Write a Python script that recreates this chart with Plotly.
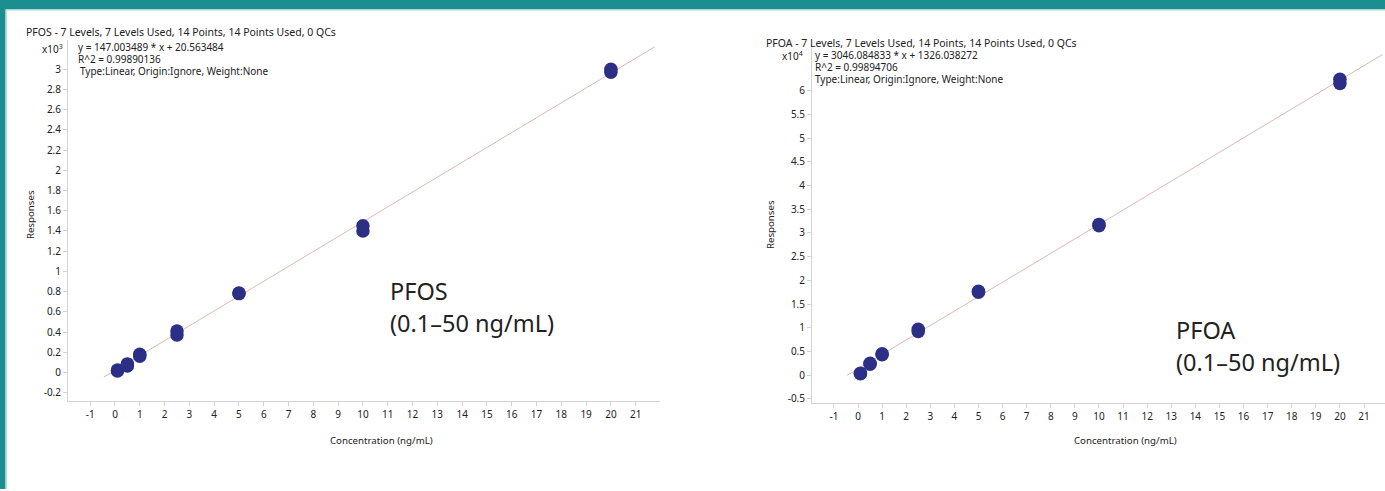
import plotly.graph_objects as go

W, H = 1385, 491

# ---------------- data ----------------
conc_levels = [0.1, 0.1, 0.5, 0.5, 1, 1, 2.5, 2.5, 5, 5, 10, 10, 20, 20]
pfos_resp_k = [0.015, 0.025, 0.065, 0.085, 0.16, 0.18, 0.37, 0.41, 0.78, 0.785, 1.40, 1.45, 2.97, 3.00]   # x10^3
pfoa_resp_10k = [0.03, 0.04, 0.23, 0.25, 0.43, 0.45, 0.92, 0.97, 1.75, 1.77, 3.15, 3.18, 6.15, 6.24]  # x10^4

pfos_slope, pfos_intercept = 147.003489, 20.563484
pfoa_slope, pfoa_intercept = 3046.084833, 1326.038272
fit_x = [-0.45, 21.77]

x_ticks = list(range(-1, 22))
pfos_y_ticks = [-0.2, 0, 0.2, 0.4, 0.6, 0.8, 1, 1.2, 1.4, 1.6, 1.8, 2, 2.2, 2.4, 2.6, 2.8, 3]
pfos_y_text = ["-0.2", "0", "0.2", "0.4", "0.6", "0.8", "1", "1.2", "1.4", "1.6", "1.8", "2", "2.2", "2.4", "2.6", "2.8", "3"]
pfoa_y_ticks = [-0.5, 0, 0.5, 1, 1.5, 2, 2.5, 3, 3.5, 4, 4.5, 5, 5.5, 6]
pfoa_y_text = ["-0.5", "0", "0.5", "1", "1.5", "2", "2.5", "3", "3.5", "4", "4.5", "5", "5.5", "6"]

# ---------------- styles ----------------
TEAL = "#1b8f8f"
DOT = "#2b2f85"
FITC = "#dcbab3"
FONT = "Noto Sans"
TXT = "#222222"

def px(xp):
    return xp / W

def py(yp):
    return 1 - yp / H

fig = go.Figure()

# fit lines
fig.add_trace(go.Scatter(x=fit_x, y=[(pfos_slope * v + pfos_intercept) / 1000 for v in fit_x],
                         mode="lines", line=dict(color=FITC, width=1), xaxis="x", yaxis="y",
                         showlegend=False, hoverinfo="skip"))
fig.add_trace(go.Scatter(x=fit_x, y=[(pfoa_slope * v + pfoa_intercept) / 10000 for v in fit_x],
                         mode="lines", line=dict(color=FITC, width=1), xaxis="x2", yaxis="y2",
                         showlegend=False, hoverinfo="skip"))
# points
fig.add_trace(go.Scatter(x=conc_levels, y=pfos_resp_k, mode="markers",
                         marker=dict(color=DOT, size=13.5, line=dict(width=0)),
                         xaxis="x", yaxis="y", showlegend=False))
fig.add_trace(go.Scatter(x=conc_levels, y=pfoa_resp_10k, mode="markers",
                         marker=dict(color=DOT, size=13.5, line=dict(width=0)),
                         xaxis="x2", yaxis="y2", showlegend=False))

axis_common = dict(showgrid=False, zeroline=False, showline=True, linecolor="#d4d4d4", linewidth=1,
                   ticks="outside", tickcolor="#d4d4d4", ticklen=4, tickwidth=1,
                   tickfont=dict(family=FONT, size=10, color=TXT), tickmode="array")

fig.update_layout(
    width=W, height=H, margin=dict(l=0, r=0, t=0, b=0),
    paper_bgcolor="white", plot_bgcolor="white", showlegend=False,
    xaxis=dict(domain=[px(68), px(660)], range=[-1.895, 21.98], tickvals=x_ticks,
               ticktext=[str(v) for v in x_ticks], anchor="y", **axis_common),
    yaxis=dict(domain=[py(403), py(40)], range=[-0.2857, 3.29], tickvals=pfos_y_ticks,
               ticktext=pfos_y_text, anchor="x", **axis_common),
    xaxis2=dict(domain=[px(812), 1.0], range=[-1.909, 21.87], tickvals=x_ticks,
                ticktext=[str(v) for v in x_ticks], anchor="y2", **axis_common),
    yaxis2=dict(domain=[py(405), py(45)], range=[-0.595, 6.968], tickvals=pfoa_y_ticks,
                ticktext=pfoa_y_text, anchor="x2", **axis_common),
)

ann = []
def add_text(text, x, y, size=10, xanchor="left", yanchor="middle", angle=0, color=TXT):
    ann.append(dict(text=text, x=px(x), y=py(y), xref="paper", yref="paper", showarrow=False,
                    xanchor=xanchor, yanchor=yanchor, textangle=angle,
                    font=dict(family=FONT, size=size, color=color)))

# left chart texts
add_text("PFOS - 7 Levels, 7 Levels Used, 14 Points, 14 Points Used, 0 QCs", 24, 32, 10.5)
add_text("x10<sup>3</sup>", 65, 49, 10, xanchor="right")
add_text("y = 147.003489 * x + 20.563484", 76, 47, 10)
add_text("R^2 = 0.99890136", 76, 59, 10)
add_text("Type:Linear, Origin:Ignore, Weight:None", 78, 71, 10)
add_text("Responses", 30, 216, 9.7, xanchor="center", angle=-90)
add_text("Concentration (ng/mL)", 382, 442, 9.7, xanchor="center")
add_text("PFOS", 388, 292, 23.5)
add_text("(0.1–50 ng/mL)", 388, 324, 23.5)

# right chart texts
add_text("PFOA - 7 Levels, 7 Levels Used, 14 Points, 14 Points Used, 0 QCs", 764, 43, 10.5)
add_text("x10<sup>4</sup>", 805, 56, 10, xanchor="right")
add_text("y = 3046.084833 * x + 1326.038272", 813, 55, 10)
add_text("R^2 = 0.99894706", 813, 67, 10)
add_text("Type:Linear, Origin:Ignore, Weight:None", 813, 79, 10)
add_text("Responses", 770, 226, 9.7, xanchor="center", angle=-90)
add_text("Concentration (ng/mL)", 1125, 442, 9.7, xanchor="center")
add_text("PFOA", 1174, 331, 23.5)
add_text("(0.1–50 ng/mL)", 1174, 363, 23.5)

fig.update_layout(annotations=ann)

# frame
fig.update_layout(shapes=[
    dict(type="rect", xref="paper", yref="paper", x0=0, x1=1, y0=py(9), y1=1,
         fillcolor=TEAL, line=dict(width=0), layer="below"),
    dict(type="rect", xref="paper", yref="paper", x0=0, x1=1, y0=py(10.5), y1=py(9),
         fillcolor="#a9d6d6", line=dict(width=0), layer="below"),
    dict(type="rect", xref="paper", yref="paper", x0=0, x1=px(5.5), y0=0, y1=1,
         fillcolor=TEAL, line=dict(width=0), layer="below"),
    dict(type="rect", xref="paper", yref="paper", x0=px(5.5), x1=px(6.8), y0=0, y1=py(10.5),
         fillcolor="#a9d6d6", line=dict(width=0), layer="below"),
])

fig.write_html("out.html", config={"displayModeBar": False},
               post_script="document.body.style.margin='0';document.body.style.overflow='hidden';")
